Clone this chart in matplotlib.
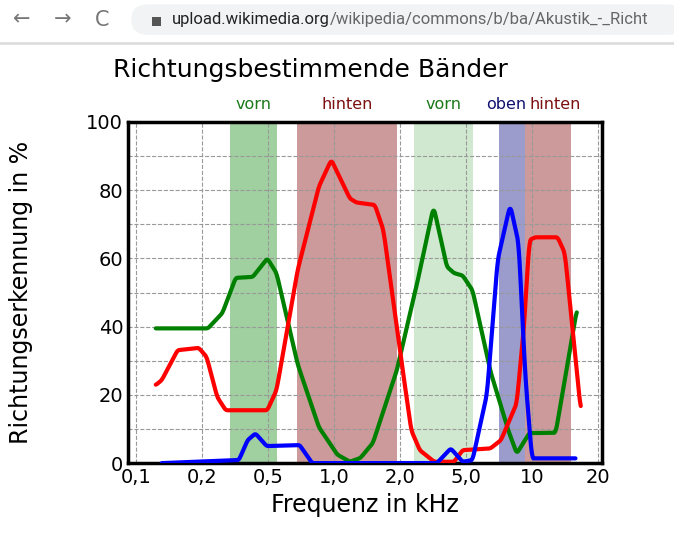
import numpy as np
import matplotlib.pyplot as plt
from matplotlib.patches import FancyBboxPatch

# x axis is in "tick index" units: 0 -> 0,1 kHz ... 7 -> 20 kHz
tick_labels = ["0,1", "0,2", "0,5", "1,0", "2,0", "5,0", "10", "20"]
tick_pos = [0, 1, 2, 3, 4, 5, 6, 7]

green_x = [0.30, 1.09, 1.31, 1.51, 1.77, 1.99, 2.13, 2.45, 2.77, 3.05, 3.24, 3.40, 3.59, 3.95, 4.26,
           4.51, 4.71, 4.82, 4.95, 5.10, 5.37, 5.64, 5.77, 5.96, 6.36, 6.68]
green_y = [39.5, 39.5, 44, 54.3, 54.6, 60, 55.7, 29, 10.6, 2.5, 0.4, 1.5, 5.9, 27, 52.7,
           75.2, 57.6, 55.7, 55, 50.7, 27, 9.7, 2.8, 8.8, 8.9, 44.9]

red_x = [0.30, 0.39, 0.63, 0.95, 1.07, 1.23, 1.36, 1.99, 2.13, 2.45, 2.77, 2.96, 3.24, 3.34, 3.62,
         3.75, 4.0, 4.17, 4.30, 4.52, 4.82, 4.95, 5.37, 5.53, 5.77, 5.88, 5.96, 6.05, 6.39, 6.50, 6.74]
red_y = [22.9, 24.3, 33.1, 33.8, 31.2, 19.4, 15.5, 15.5, 21.4, 56.6, 81, 88.9, 77.6, 76.4, 75.7,
         68.3, 33.1, 9.7, 3.8, 0.4, 0.4, 3.8, 4.3, 6.7, 17.5, 40, 65.4, 66.2, 66.2, 61.5, 15.5]

blue_x = [0.39, 1.56, 1.69, 1.81, 1.98, 2.48, 2.67, 4.56, 4.77, 4.95, 5.10, 5.32, 5.48, 5.67,
          5.80, 5.90, 6.0, 6.66]
blue_y = [0, 0.9, 6.7, 8.7, 5, 5.3, 0, 0, 4.3, 0.4, 0.9, 20.4, 59.5, 75.7,
          64.4, 25.3, 1.4, 1.4]

bands = [(1.43, 2.14, "#a0d0a0"), (2.44, 3.95, "#cc9a9a"), (4.22, 5.11, "#d0e8d0"),
         (5.50, 5.89, "#9c9ccc"), (5.89, 6.59, "#cc9a9a")]
band_labels = [(1.78, "center", "vorn", "#1a7a1a"), (3.2, "center", "hinten", "#7a1010"),
               (4.66, "center", "vorn", "#1a7a1a"), (5.92, "right", "oben", "#101070"),
               (5.97, "left", "hinten", "#7a1010")]


def smooth(xs, ys, w=5):
    xx = np.linspace(xs[0], xs[-1], 600)
    yy = np.interp(xx, xs, ys)
    k = np.ones(w) / w
    yp = np.pad(yy, w // 2, mode="edge")
    return xx, np.convolve(yp, k, mode="valid")


fig = plt.figure(figsize=(6.74, 5.52), dpi=100)

# browser address bar
fig.patches.append(FancyBboxPatch((0.195, 0.937), 0.82, 0.055, boxstyle="round,pad=0,rounding_size=0.025",
                                  transform=fig.transFigure, fc="#f1f3f4", ec="none"))
fig.add_artist(plt.Line2D([0, 1], [0.922, 0.922], color="#dddddd", lw=2, transform=fig.transFigure))
for xx, s in [(0.033, "\u2190"), (0.093, "\u2192"), (0.152, "C")]:
    fig.text(xx, 0.964, s, fontsize=15, color="#777777", ha="center", va="center")
fig.patches.append(plt.Rectangle((0.226, 0.953), 0.013, 0.016, transform=fig.transFigure,
                                 fc="#555555", ec="none"))
t1 = fig.text(0.255, 0.964, "upload.wikimedia.org", fontsize=12, family="Roboto",
              color="#222222", va="center")
fig.canvas.draw()
bb = t1.get_window_extent().transformed(fig.transFigure.inverted())
fig.text(bb.x1, 0.964, "/wikipedia/commons/b/ba/Akustik_-_Richt", fontsize=12, family="Roboto",
         color="#666666", va="center")

ax = fig.add_axes([0.190, 0.161, 0.703, 0.618])
for x0, x1, c in bands:
    ax.axvspan(x0, x1, color=c, lw=0, zorder=0)
for x, ha, lab, lc in band_labels:
    ax.text(x, 103, lab, color=lc, fontsize=11.5, ha=ha, va="bottom")

for xs, ys, c in [(green_x, green_y, "green"), (red_x, red_y, "red"), (blue_x, blue_y, "blue")]:
    sx, sy = smooth(xs, ys)
    ax.plot(sx, sy, color=c, lw=3, solid_joinstyle="round", solid_capstyle="round", zorder=3)

ax.set_xlim(-0.12, 7.06)
ax.set_ylim(0, 100)
ax.set_xticks(tick_pos)
ax.set_xticklabels(tick_labels)
ax.set_yticks(range(0, 101, 20))
ax.set_yticks(range(10, 100, 20), minor=True)
ax.tick_params(labelsize=14, length=0, which="both")
ax.grid(True, which="both", ls="--", color="#999999", lw=0.8)
for sp in ax.spines.values():
    sp.set_linewidth(2.5)
ax.set_xlabel("Frequenz in kHz", fontsize=17)
ax.set_ylabel("Wahrscheinlichkeit der\nRichtungserkennung in %", fontsize=17)
ax.yaxis.set_label_coords(-0.2, 0.5)
fig.text(0.46, 0.873, "Richtungsbestimmende Bänder", fontsize=18, ha="center", va="center")

fig.savefig("out.png", dpi=100)
